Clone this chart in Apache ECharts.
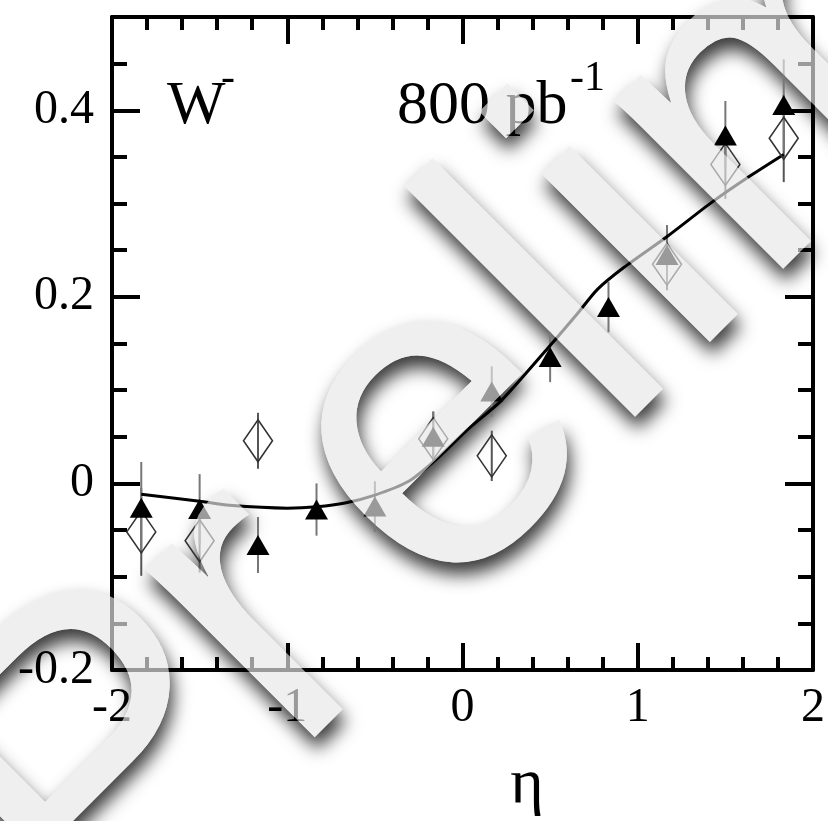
<!DOCTYPE html>
<html>
<head>
<meta charset="utf-8">
<script src="https://cdn.jsdelivr.net/npm/echarts@6/dist/echarts.min.js"></script>
<style>
  html, body { margin: 0; padding: 0; background: #ffffff; }
  #chart { width: 828px; height: 821px; }
</style>
</head>
<body>
<div id="chart"></div>
<script>
// W- asymmetry versus pseudorapidity, 800 pb^-1

// Filled triangles: one point per eta bin
const triangleEta    = [-1.833, -1.5, -1.167, -0.833, -0.5, -0.167, 0.167, 0.5, 0.833, 1.167, 1.5, 1.833];
const triangleValues = [-0.026, -0.0275, -0.066, -0.028, -0.0247, 0.050, 0.0985, 0.1356, 0.189, 0.245, 0.373, 0.4056];
const triangleErrors = [0.049, 0.0375, 0.030, 0.028, 0.027, 0.027, 0.027, 0.027, 0.027, 0.032, 0.037, 0.049];

// Open diamonds
const diamondEta    = [-1.833, -1.5, -1.167, -0.167, 0.167, 1.167, 1.5, 1.833];
const diamondValues = [-0.052, -0.0615, 0.0457, 0.048, 0.0296, 0.235, 0.342, 0.370];
const diamondErrors = [0.047, 0.034, 0.030, 0.029, 0.027, 0.028, 0.037, 0.047];

// Prediction curve
const curveEta    = [-1.833, -1.5, -1.33, -1.0, -0.83, -0.67, -0.5, -0.31, -0.14, 0.03, 0.22, 0.49, 0.66, 0.77, 0.92, 1.17, 1.42, 1.64, 1.833];
const curveValues = [-0.0115, -0.019, -0.0235, -0.0265, -0.025, -0.021, -0.0125, 0.002, 0.0275, 0.058, 0.0885, 0.1457, 0.183, 0.208, 0.2314, 0.265, 0.301, 0.3295, 0.3527];

// Axis ranges and labelled y values
const xRange = [-2, 2];
const yRange = [-0.2, 0.5];
const yLabelValues = [-0.2, 0, 0.2, 0.4];

const SERIF = '"Liberation Serif", "Times New Roman", serif';

const triangleData = triangleEta.map((x, i) => [x, triangleValues[i], triangleErrors[i]]);
const diamondData  = diamondEta.map((x, i) => [x, diamondValues[i], diamondErrors[i]]);
const curveData    = curveEta.map((x, i) => [x, curveValues[i]]);

function errorBar(color) {
  return function (params, api) {
    const x = api.value(0), y = api.value(1), e = api.value(2);
    const lo = api.coord([x, y - e]);
    const hi = api.coord([x, y + e]);
    return {
      type: 'line',
      shape: { x1: lo[0], y1: lo[1], x2: hi[0], y2: hi[1] },
      style: { stroke: color, lineWidth: 2 }
    };
  };
}

function xAxisDef(position, withLabels) {
  return {
    type: 'value', position: position, min: xRange[0], max: xRange[1], interval: 1,
    axisLine: { show: true, onZero: false, lineStyle: { color: '#000', width: 4 } },
    axisTick: { show: true, inside: true, length: 27, lineStyle: { color: '#000', width: 4 } },
    minorTick: { show: true, splitNumber: 5, length: 13, lineStyle: { color: '#000', width: 4 } },
    axisLabel: { show: withLabels, margin: 14, color: '#000', fontFamily: SERIF, fontSize: 48 },
    splitLine: { show: false }, minorSplitLine: { show: false }
  };
}

function yAxisDef(position, interval, tickLen, withLabels, withLine) {
  return {
    type: 'value', position: position, min: yRange[0], max: yRange[1], interval: interval,
    axisLine: { show: withLine, onZero: false, lineStyle: { color: '#000', width: 4 } },
    axisTick: { show: true, inside: true, length: tickLen, lineStyle: { color: '#000', width: 4 } },
    axisLabel: {
      show: withLabels, margin: 18, color: '#000', fontFamily: SERIF, fontSize: 48,
      padding: [6, 0, 0, 0],
      formatter: function (v) {
        const hit = yLabelValues.find(t => Math.abs(t - v) < 1e-9);
        return hit === undefined ? '' : String(hit);
      }
    },
    splitLine: { show: false }
  };
}

// Large "Preliminary" stamp, drawn letter by letter along a 45 degree baseline.
// Each letter: [glyph, offset along the baseline, offset across it]
const stampSize = 450;
const stampMid = 0.276;               // canvas 'middle' baseline offset, in em
const stampAngle = Math.PI / 4;
const stampLetters = [['P', -464, -9], ['r', -255, 0], ['e', 0, 0], ['l', 174, 0], ['i', 280, 0], ['m', 520, 0]];
const stampTail = ['inary', 720, 0];
const R = Math.SQRT1_2;
function stampAnchor(u, v) {
  const bx = 526 + u * R - v * R, by = 526 - u * R - v * R;
  const off = stampMid * stampSize * R;
  return [bx - off, by - off];
}
const stampFont = stampSize + 'px "Liberation Sans", Arial, sans-serif';
const stampGraphics = [];
function addStamp(text, u, v, align) {
  const p = stampAnchor(u, v);
  // white body with drop shadow, below the plot content
  stampGraphics.push({
    type: 'text', x: p[0], y: p[1], rotation: stampAngle, z: -10, silent: true,
    style: {
      text: text, font: stampFont, fill: '#ffffff',
      align: align, textAlign: align, verticalAlign: 'middle', textVerticalAlign: 'middle',
      textShadowColor: 'rgba(0,0,0,0.78)', textShadowBlur: 18,
      textShadowOffsetX: 3, textShadowOffsetY: 12
    }
  });
  // translucent grey veil over everything
  stampGraphics.push({
    type: 'text', x: p[0], y: p[1], rotation: stampAngle, z: 100, silent: true,
    style: {
      text: text, font: stampFont, fill: 'rgba(231,231,231,0.667)',
      align: align, textAlign: align, verticalAlign: 'middle', textVerticalAlign: 'middle'
    }
  });
}
stampLetters.forEach(([ch, u, v]) => addStamp(ch, u, v, 'center'));
addStamp(stampTail[0], stampTail[1], stampTail[2], 'left');

function serifText(text, x, y, size, align) {
  return {
    type: 'text', x: x, y: y, z: 5, silent: true,
    style: {
      text: text, font: size + 'px ' + SERIF, fill: '#000',
      align: align, textAlign: align, verticalAlign: 'middle', textVerticalAlign: 'middle'
    }
  };
}

const chart = echarts.init(document.getElementById('chart'), null, { renderer: 'canvas' });
chart.setOption({
  backgroundColor: '#ffffff',
  animation: false,
  grid: { left: 112, right: 12, top: 17, bottom: 151, containLabel: false },
  xAxis: [xAxisDef('bottom', true), xAxisDef('top', false)],
  yAxis: [
    yAxisDef('left', 0.2, 28, true, true),
    yAxisDef('left', 0.05, 15, false, false),
    yAxisDef('right', 0.2, 28, false, true),
    yAxisDef('right', 0.05, 15, false, false)
  ],
  graphic: stampGraphics.concat([
    serifText('W', 167, 123 - 0.263 * 62, 62, 'left'),
    serifText('-', 221, 90 - 0.263 * 42, 42, 'left'),
    serifText('800 pb', 397, 123 - 0.263 * 62, 62, 'left'),
    serifText('-1', 570, 90 - 0.263 * 42, 42, 'left'),
    serifText('\u03b7', 527, 802 - 0.263 * 64, 64, 'center')
  ]),
  series: [
    {
      type: 'custom', name: 'diamond errors', xAxisIndex: 0, yAxisIndex: 0, z: 1,
      renderItem: errorBar('#555555'), encode: { x: 0, y: 1 }, data: diamondData
    },
    {
      type: 'custom', name: 'triangle errors', xAxisIndex: 0, yAxisIndex: 0, z: 1,
      renderItem: errorBar('#777777'), encode: { x: 0, y: 1 }, data: triangleData
    },
    {
      type: 'line', name: 'prediction', xAxisIndex: 0, yAxisIndex: 0, z: 2,
      data: curveData, showSymbol: false, smooth: 0.25,
      lineStyle: { color: '#000', width: 3 }
    },
    {
      type: 'scatter', name: 'diamonds', xAxisIndex: 0, yAxisIndex: 0, z: 3,
      data: diamondData.map(d => [d[0], d[1]]), symbol: 'diamond', symbolSize: [29, 42],
      itemStyle: { color: 'rgba(0,0,0,0)', borderColor: '#333333', borderWidth: 1.6, opacity: 1 }
    },
    {
      type: 'scatter', name: 'triangles', xAxisIndex: 0, yAxisIndex: 0, z: 4,
      data: triangleData.map(d => [d[0], d[1]]), symbol: 'triangle', symbolSize: [23, 20],
      itemStyle: { color: '#000000', opacity: 1 }
    }
  ]
});
</script>
</body>
</html>
